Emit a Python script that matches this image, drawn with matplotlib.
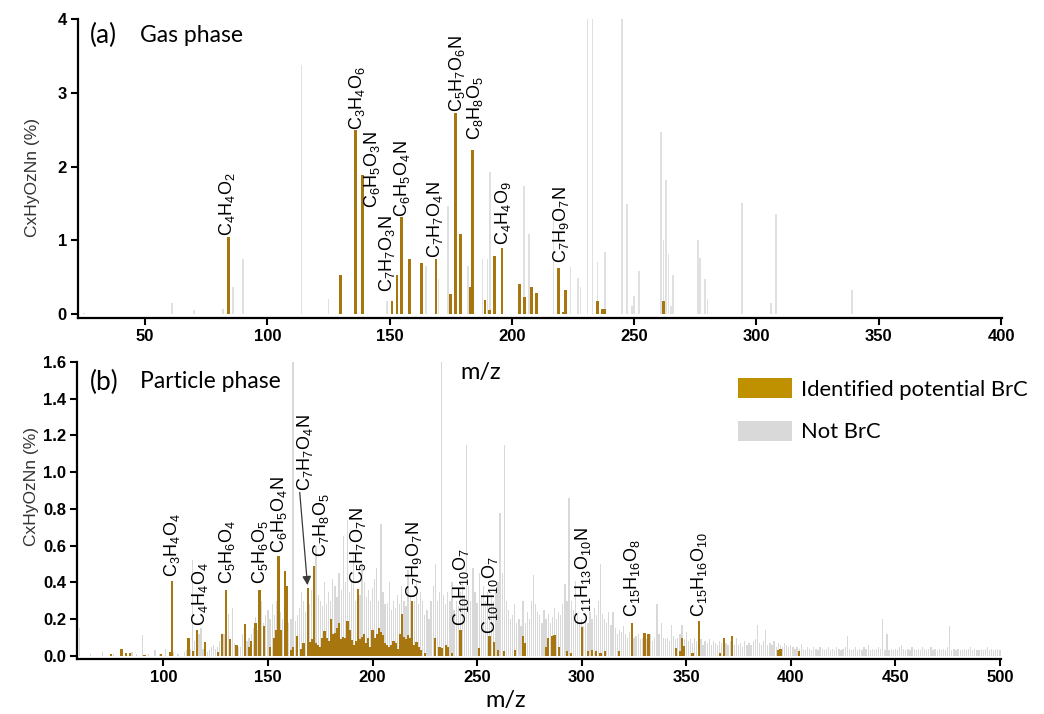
import numpy as np
import matplotlib
matplotlib.use("Agg")
import matplotlib.pyplot as plt
from matplotlib.patches import Patch

plt.rcParams['font.family'] = ['Liberation Sans', 'DejaVu Sans']
plt.rcParams['mathtext.fontset'] = 'custom'
plt.rcParams['mathtext.rm'] = 'Liberation Sans'
plt.rcParams['mathtext.it'] = 'Liberation Sans:italic'
plt.rcParams['mathtext.bf'] = 'Liberation Sans:bold'
plt.rcParams['mathtext.default'] = 'regular'

# ---------------- (a) gas phase ----------------
gas_brc_mz = [84, 130, 136, 139, 151, 153, 155, 158, 163, 169,
              175, 177, 179, 183, 184, 189, 191, 193, 196, 203,
              205, 208, 210, 219, 221, 222, 235, 237, 238, 262]
gas_brc_val = [1.05, 0.53, 2.49, 1.89, 0.17, 0.53, 1.31, 0.75, 0.69, 0.75,
               0.27, 2.73, 1.09, 0.36, 2.22, 0.19, 0.06, 0.78, 0.90, 0.41,
               0.23, 0.36, 0.28, 0.62, 0.03, 0.33, 0.18, 0.07, 0.07, 0.18]
gas_other_mz = [25, 61, 70, 82, 86, 90, 114, 125, 149, 165,
                170, 174, 182, 188, 190, 191, 205, 207, 217, 224,
                227, 228, 231, 233, 235, 238, 245, 247, 249, 250,
                252, 261, 262, 263, 264, 265, 266, 276, 277, 279,
                280, 294, 306, 308, 339]
gas_other_val = [0.02, 0.15, 0.05, 0.07, 0.37, 0.74, 3.37, 0.20, 0.17, 0.65,
                 0.48, 1.46, 0.65, 0.75, 0.75, 1.92, 1.73, 1.08, 1.43, 0.64,
                 0.49, 0.36, 4.0, 4.0, 0.70, 0.84, 4.0, 1.49, 0.11, 0.24,
                 0.58, 2.47, 1.00, 1.82, 0.81, 0.11, 0.53, 1.00, 0.76, 0.48,
                 0.20, 1.50, 0.15, 1.36, 0.32]
gas_labels = ['C$_4$H$_4$O$_2$', 'C$_3$H$_4$O$_6$', 'C$_6$H$_5$O$_3$N', 'C$_7$H$_7$O$_3$N',
              'C$_6$H$_5$O$_4$N', 'C$_7$H$_7$O$_4$N', 'C$_5$H$_7$O$_6$N', 'C$_8$H$_8$O$_5$',
              'C$_4$H$_4$O$_9$', 'C$_7$H$_9$O$_7$N']

# ---------------- (b) particle phase ----------------
part_brc_mz = [75, 80, 82, 84, 91, 99, 103, 104, 112, 114,
               116, 120, 126, 128, 130, 132, 135, 139, 141, 142,
               144, 146, 148, 151, 153, 154, 155, 156, 158, 159,
               161, 162, 164, 166, 167, 169, 170, 171, 172, 173,
               174, 175, 176, 177, 178, 179, 180, 181, 182, 183,
               184, 185, 186, 187, 188, 189, 190, 191, 192, 193,
               194, 195, 196, 197, 198, 199, 200, 201, 202, 203,
               204, 205, 206, 207, 208, 209, 210, 211, 212, 213,
               214, 215, 216, 217, 218, 219, 220, 221, 222, 223,
               225, 230, 232, 233, 235, 236, 238, 242, 251, 256,
               258, 260, 263, 268, 272, 273, 283, 284, 286, 287,
               289, 293, 295, 300, 303, 305, 307, 309, 311, 318,
               324, 330, 332, 345, 347, 348, 349, 353, 356, 366,
               368, 372, 394, 395, 404]
part_brc_val = [0.01, 0.036, 0.013, 0.015, 0.005, 0.01, 0.02, 0.405, 0.096, 0.027,
                0.142, 0.078, 0.022, 0.12, 0.36, 0.091, 0.06, 0.175, 0.05, 0.08,
                0.18, 0.36, 0.16, 0.05, 0.096, 0.14, 0.545, 0.14, 0.46, 0.38,
                0.033, 0.05, 0.11, 0.04, 0.07, 0.37, 0.078, 0.09, 0.487, 0.07,
                0.06, 0.05, 0.10, 0.133, 0.096, 0.08, 0.20, 0.12, 0.124, 0.15,
                0.18, 0.09, 0.105, 0.10, 0.19, 0.14, 0.087, 0.06, 0.08, 0.364,
                0.09, 0.105, 0.12, 0.07, 0.096, 0.05, 0.14, 0.10, 0.12, 0.15,
                0.13, 0.115, 0.07, 0.06, 0.05, 0.06, 0.08, 0.07, 0.04, 0.12,
                0.23, 0.105, 0.09, 0.115, 0.10, 0.30, 0.06, 0.078, 0.05, 0.03,
                0.018, 0.096, 0.05, 0.042, 0.06, 0.05, 0.015, 0.14, 0.042, 0.11,
                0.078, 0.033, 0.027, 0.03, 0.11, 0.07, 0.05, 0.096, 0.11, 0.115,
                0.05, 0.024, 0.015, 0.156, 0.024, 0.033, 0.024, 0.018, 0.024, 0.027,
                0.18, 0.127, 0.118, 0.045, 0.024, 0.10, 0.055, 0.018, 0.19, 0.015,
                0.10, 0.11, 0.033, 0.036, 0.024]
part_low_mz = [60, 65, 71, 76, 85, 87, 90, 93, 96, 98]
part_low_val = [0.15, 0.01, 0.02, 0.01, 0.02, 0.01, 0.115, 0.01, 0.033, 0.01]
part_other_mz = np.arange(100, 501)
part_other_val = [
    0.00, 0.04, 0.00, 0.02, 0.03, 0.02, 0.00, 0.01, 0.00, 0.00,
    0.02, 0.03, 0.05, 0.04, 0.52, 0.08, 0.06, 0.12, 0.15, 0.04,
    0.03, 0.02, 0.03, 0.05, 0.06, 0.04, 0.05, 0.08, 0.10, 0.12,
    0.10, 0.23, 0.08, 0.26, 0.07, 0.06, 0.05, 0.05, 0.12, 0.09,
    0.08, 0.10, 0.12, 0.15, 0.21, 0.14, 0.20, 0.30, 0.18, 0.22,
    0.25, 0.20, 0.28, 0.22, 0.30, 0.18, 0.24, 0.20, 0.22, 0.34,
    0.18, 0.20, 1.60, 0.19, 0.22, 0.26, 0.35, 0.30, 0.24, 0.21,
    0.28, 0.36, 0.25, 0.60, 0.33, 0.30, 0.27, 0.40, 0.28, 0.35,
    0.30, 0.42, 0.38, 0.32, 0.45, 0.36, 0.65, 0.40, 0.74, 0.35,
    0.42, 0.55, 0.30, 0.28, 0.33, 0.50, 0.40, 0.32, 0.36, 0.30,
    0.37, 0.42, 0.48, 0.30, 0.72, 0.35, 0.28, 0.29, 0.40, 0.25,
    0.30, 0.26, 0.33, 0.28, 0.38, 0.30, 0.27, 0.47, 0.32, 0.25,
    0.30, 0.41, 0.28, 0.35, 0.30, 0.22, 0.25, 0.20, 0.30, 0.38,
    0.50, 0.30, 0.35, 1.60, 0.33, 0.28, 0.35, 0.30, 0.40, 0.25,
    0.30, 0.27, 0.35, 0.40, 0.33, 1.15, 0.38, 0.30, 0.48, 0.35,
    0.29, 0.45, 0.32, 0.38, 0.30, 0.35, 0.28, 0.33, 0.30, 0.36,
    0.40, 0.78, 0.45, 1.15, 0.30, 0.25, 0.20, 0.22, 0.28, 0.18,
    0.20, 0.16, 0.30, 0.18, 0.24, 0.20, 0.30, 0.44, 0.28, 0.24,
    0.22, 0.18, 0.25, 0.20, 0.23, 0.18, 0.21, 0.26, 0.20, 0.24,
    0.22, 0.28, 0.39, 0.30, 0.86, 0.30, 0.25, 0.41, 0.22, 0.18,
    0.20, 0.16, 0.22, 0.18, 0.24, 0.20, 0.26, 0.22, 0.30, 0.50,
    0.23, 0.20, 0.18, 0.24, 0.17, 0.24, 0.15, 0.12, 0.14, 0.13,
    0.16, 0.12, 0.10, 0.13, 0.12, 0.10, 0.11, 0.12, 0.09, 0.10,
    0.11, 0.09, 0.10, 0.12, 0.08, 0.10, 0.28, 0.12, 0.18, 0.10,
    0.09, 0.10, 0.08, 0.17, 0.11, 0.09, 0.10, 0.12, 0.17, 0.09,
    0.13, 0.08, 0.09, 0.07, 0.10, 0.08, 0.07, 0.09, 0.06, 0.08,
    0.07, 0.09, 0.06, 0.08, 0.07, 0.06, 0.08, 0.07, 0.06, 0.07,
    0.06, 0.08, 0.07, 0.06, 0.10, 0.06, 0.07, 0.05, 0.08, 0.06,
    0.07, 0.06, 0.08, 0.09, 0.17, 0.07, 0.06, 0.08, 0.14, 0.06,
    0.07, 0.06, 0.08, 0.05, 0.07, 0.06, 0.05, 0.07, 0.06, 0.05,
    0.06, 0.05, 0.04, 0.05, 0.04, 0.065, 0.04, 0.03, 0.05, 0.04,
    0.03, 0.05, 0.04, 0.03, 0.05, 0.04, 0.03, 0.04, 0.05, 0.03,
    0.04, 0.03, 0.05, 0.04, 0.03, 0.04, 0.05, 0.11, 0.04, 0.03,
    0.04, 0.05, 0.03, 0.04, 0.03, 0.05, 0.04, 0.06, 0.03, 0.04,
    0.03, 0.04, 0.05, 0.04, 0.20, 0.03, 0.12, 0.03, 0.04, 0.03,
    0.04, 0.03, 0.05, 0.06, 0.04, 0.03, 0.04, 0.03, 0.05, 0.04,
    0.03, 0.04, 0.03, 0.05, 0.04, 0.03, 0.04, 0.05, 0.03, 0.04,
    0.03, 0.04, 0.03, 0.04, 0.03, 0.05, 0.16, 0.03, 0.04, 0.03,
    0.04, 0.03, 0.03, 0.04, 0.03, 0.04, 0.05, 0.03, 0.04, 0.03,
    0.03, 0.04, 0.03, 0.04, 0.05, 0.03, 0.04, 0.03, 0.03, 0.04,
    0.03]
part_labels = ['C$_3$H$_4$O$_4$', 'C$_4$H$_4$O$_4$', 'C$_5$H$_6$O$_4$', 'C$_5$H$_6$O$_5$',
               'C$_6$H$_5$O$_4$N', 'C$_7$H$_7$O$_4$N', 'C$_7$H$_8$O$_5$', 'C$_5$H$_7$O$_7$N',
               'C$_7$H$_9$O$_7$N', 'C$_{10}$H$_{10}$O$_7$', 'C$_{10}$H$_{10}$O$_7$',
               'C$_{11}$H$_{13}$O$_{10}$N', 'C$_{15}$H$_{16}$O$_8$', 'C$_{15}$H$_{16}$O$_{10}$']

# label anchor points (m/z, height) - bottom centre of rotated text
gas_label_pos = [(83.7, 1.06), (136.5, 2.5), (142.7, 1.44), (148.8, 0.30), (155.0, 1.32),
                 (168.6, 0.76), (177.4, 2.74), (184.9, 2.36), (196.5, 0.94), (220.0, 0.69)]
part_label_pos = [(104.0, 0.43), (117.5, 0.16), (130.2, 0.39), (146.0, 0.39), (155.3, 0.56),
                  (167.7, 0.90), (175.4, 0.54), (193.0, 0.39), (219.9, 0.315), (242.3, 0.16),
                  (256.4, 0.12), (300.6, 0.17), (324.2, 0.21), (356.3, 0.21)]

brc_color = '#A8760F'
other_color = '#D8D8D8'
legend_brc = '#BF9000'
legend_other = '#D9D9D9'

W, H = 1044, 714
fig = plt.figure(figsize=(W / 100, H / 100), dpi=100)
ax_a = fig.add_axes([78 / W, 1 - 318 / H, (1002 - 78) / W, (318 - 19) / H])
ax_b = fig.add_axes([77 / W, 1 - 659 / H, (1001 - 77) / W, (659 - 362) / H])

ax_a.bar(gas_other_mz, gas_other_val, width=0.65, color='#E0E0E0', zorder=1)
ax_a.bar(gas_brc_mz, gas_brc_val, width=1.15, color=brc_color, zorder=2)

ax_b.bar(part_low_mz, part_low_val, width=0.6, color=other_color, zorder=1)
ax_b.bar(part_other_mz, part_other_val, width=0.6, color=other_color, zorder=1)
ax_b.bar(part_brc_mz, part_brc_val, width=1.1, color=brc_color, zorder=2)

for txt, (x, y) in zip(gas_labels, gas_label_pos):
    ax_a.text(x, y, txt, rotation=90, ha='center', va='bottom', fontsize=13, zorder=5)
for txt, (x, y) in zip(part_labels, part_label_pos):
    ax_b.text(x, y, txt, rotation=90, ha='center', va='bottom', fontsize=13, zorder=5)

# arrow from the C7H7O4N label down to its bar
ax_b.annotate('', xy=(168.9, 0.385), xytext=(165.2, 0.89),
              arrowprops=dict(arrowstyle='-|>', color='#3a3a3a', lw=0.9,
                              mutation_scale=13, shrinkA=0, shrinkB=0), zorder=6)

ax_a.set_xlim(22.6, 400.4)
ax_a.set_ylim(-0.054, 4.0)
ax_a.set_xticks([50, 100, 150, 200, 250, 300, 350, 400])
ax_a.set_yticks([0, 1, 2, 3, 4])

ax_b.set_xlim(58.7, 500.5)
ax_b.set_ylim(-0.017, 1.6)
ax_b.set_xticks([100, 150, 200, 250, 300, 350, 400, 450, 500])
ax_b.set_yticks([0.0, 0.2, 0.4, 0.6, 0.8, 1.0, 1.2, 1.4, 1.6])
ax_b.set_yticklabels(['%.1f' % v for v in ax_b.get_yticks()])

for ax in (ax_a, ax_b):
    ax.spines['top'].set_visible(False)
    ax.spines['right'].set_visible(False)
    ax.spines['left'].set_linewidth(1.6)
    ax.spines['bottom'].set_linewidth(1.6)
    ax.tick_params(direction='out', length=5, width=1.5, labelsize=12, pad=3)
    for lab in ax.get_xticklabels() + ax.get_yticklabels():
        lab.set_fontweight('bold')
    ax.set_ylabel('CxHyOzNn (%)', fontsize=12.5, color='#333333')

ax_a.yaxis.set_label_coords(-0.041, 0.47)
ax_b.yaxis.set_label_coords(-0.041, 0.58)

title_font = ['Lato', 'DejaVu Sans']
fig.text(90 / W, 1 - 35 / H, '(a)', fontsize=19, family=title_font, va='center')
fig.text(140 / W, 1 - 35 / H, 'Gas phase', fontsize=16.5, family=title_font, va='center')
fig.text(90 / W, 1 - 382 / H, '(b)', fontsize=19, family=title_font, va='center')
fig.text(140 / W, 1 - 382 / H, 'Particle phase', fontsize=16.5, family=title_font, va='center')
fig.text(481 / W, 1 - 372 / H, 'm/z', fontsize=17, family=title_font, ha='center', va='center')
fig.text(506 / W, 1 - 701 / H, 'm/z', fontsize=17, family=title_font, ha='center', va='center')

handles = [Patch(facecolor=legend_brc, edgecolor='none', label='Identified potential BrC'),
           Patch(facecolor=legend_other, edgecolor='none', label='Not BrC')]
fig.legend(handles=handles, loc='upper left', bbox_to_anchor=(738 / W, 1 - 378 / H),
           bbox_transform=fig.transFigure, frameon=False, borderpad=0, borderaxespad=0,
           handlelength=2.45, handleheight=1.05, handletextpad=0.4, labelspacing=0.95,
           prop={'family': title_font, 'size': 15.8})

fig.savefig('out.png', dpi=100)
